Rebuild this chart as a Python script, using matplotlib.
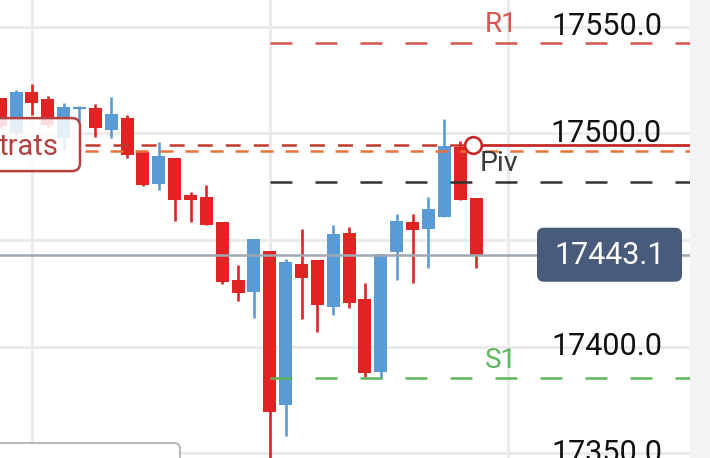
import matplotlib
matplotlib.use("Agg")
import matplotlib.pyplot as plt
from matplotlib.patches import FancyBboxPatch, Rectangle
from matplotlib.transforms import IdentityTransform

plt.rcParams['lines.scale_dashes'] = False
plt.rcParams['font.family'] = ['Roboto', 'DejaVu Sans']

# ---- data ----
opens  = [17516.5, 17500.1, 17519.4, 17516.1, 17497.8, 17511.4, 17511.9, 17501.5,
          17507.2, 17491.2, 17476.2, 17488.4, 17471.1, 17470.1, 17458.4, 17431.3,
          17425.6, 17444.8, 17372.7, 17438.8, 17440.6, 17418.6, 17453.3, 17422.4,
          17388.1, 17444.4, 17458.4, 17455.2, 17460.8, 17493.6, 17469.7]
highs  = [17516.5, 17520.3, 17523.1, 17517.5, 17514.2, 17512.8, 17513.7, 17517.0,
          17508.6, 17492.2, 17495.9, 17488.4, 17472.5, 17475.8, 17458.4, 17438.3,
          17450.5, 17444.8, 17441.1, 17455.2, 17440.6, 17457.0, 17456.1, 17429.8,
          17443.4, 17462.2, 17462.2, 17470.1, 17506.7, 17496.4, 17469.7]
lows   = [17502.5, 17499.2, 17508.6, 17503.0, 17492.2, 17505.8, 17498.3, 17497.8,
          17488.4, 17475.3, 17473.4, 17458.9, 17458.4, 17457.0, 17429.4, 17421.4,
          17413.4, 17343.0, 17358.1, 17413.0, 17406.9, 17414.9, 17418.1, 17385.8,
          17384.9, 17431.3, 17429.8, 17436.9, 17460.8, 17468.7, 17436.9]
closes = [17503.4, 17519.4, 17514.2, 17503.9, 17512.1, 17512.3, 17502.5, 17509.0,
          17489.8, 17475.8, 17489.4, 17468.7, 17468.7, 17457.0, 17430.3, 17425.2,
          17450.5, 17369.4, 17439.7, 17432.2, 17419.5, 17452.8, 17420.5, 17387.7,
          17443.4, 17458.9, 17454.7, 17464.5, 17494.0, 17468.7, 17443.1]

r1_level = 17542.3
piv_level = 17477.4
s1_level = 17385.3
strat_red_level = 17494.7
strat_orange_level = 17491.9
last_price = 17443.1

grid_prices = [17550.0, 17500.0, 17450.0, 17400.0, 17350.0]
label_prices = [17550.0, 17500.0, 17400.0, 17350.0]
price_tick_labels = ["17550.0", "17500.0", "17400.0", "17350.0"]

# ---- styling / layout ----
UP = '#5b9bd5'
DOWN = '#e02424'
GRID = '#ebebee'

fig = plt.figure(figsize=(7.1, 4.58), dpi=100)
ax = fig.add_axes([0, 0, 690 / 710, 1])
fig.add_artist(Rectangle((690 / 710, 0), 20 / 710, 1, transform=fig.transFigure,
                         color='#f3f3f5', zorder=0))

X0, X1 = -0.01, 43.49
ax.set_xlim(X0, X1)
ax.set_ylim(17347.85, 17562.46)
ax.axis('off')

# grid
for v in grid_prices:
    ax.axhline(v, color=GRID, lw=2.2, zorder=0)
for gx in [2, 17, 32]:
    ax.axvline(gx, color=GRID, lw=2.2, zorder=0)

# candles
xs = list(range(len(opens)))
cols = [UP if c >= o else DOWN for o, c in zip(opens, closes)]
ax.vlines(xs, lows, highs, colors=cols, lw=1.9, zorder=2)
bottoms = [min(o, c) for o, c in zip(opens, closes)]
heights = [max(abs(c - o), 0.6) for o, c in zip(opens, closes)]
ax.bar(xs, heights, bottom=bottoms, width=0.82, color=cols, zorder=2.1, linewidth=0)

# level lines
lvl_start = 17
ax.plot([lvl_start, X1], [r1_level] * 2, color='#d9534f', lw=1.8, dashes=(15.8, 16.6), zorder=3)
ax.plot([lvl_start, X1], [piv_level] * 2, color='#333333', lw=1.8, dashes=(15.8, 16.6), zorder=3)
ax.plot([lvl_start, X1], [s1_level] * 2, color='#5cb85c', lw=1.8, dashes=(15.8, 16.6), zorder=3)

strat_start = 5.35
marker_x = 29.81
ax.plot([strat_start, X1], [strat_orange_level] * 2, color='#e8733a', lw=1.8,
        dashes=(9.4, 8.6), zorder=3)
ax.plot([strat_start, marker_x], [strat_red_level] * 2, color='#c0392b', lw=1.8,
        dashes=(10.8, 9.4), zorder=3.1)
ax.plot([marker_x, X1], [strat_red_level] * 2, color='#c62828', lw=2.0, zorder=3.1)
ax.plot([marker_x], [strat_red_level], marker='o', ms=12, mfc='white',
        mec='#c62828', mew=1.9, zorder=3.5)

# last price line
ax.axhline(last_price, color='#a0a8b4', lw=1.8, zorder=3)

# level labels
ax.annotate('R1', xy=(30.57, r1_level), xytext=(0, 13.5), textcoords='offset points',
            ha='left', va='center', fontsize=20, color='#d9534f', zorder=6)
ax.annotate('S1', xy=(30.57, s1_level), xytext=(0, 12.5), textcoords='offset points',
            ha='left', va='center', fontsize=20, color='#5cb85c', zorder=6)
ax.annotate('Piv', xy=(30.25, piv_level), xytext=(0, 13), textcoords='offset points',
            ha='left', va='center', fontsize=20.5, color='#3a3a3a', zorder=6)

# price axis labels
for v, lab in zip(label_prices, price_tick_labels):
    ax.text(662 / 690, v, lab, transform=ax.get_yaxis_transform(), ha='right',
            va='center', fontsize=22, color='#111111', zorder=5)

fig.canvas.draw()

# last price box
yc = ax.transData.transform((0, last_price))[1]
box = FancyBboxPatch((537, yc - 27), 145, 54, boxstyle='round,pad=0,rounding_size=7',
                     transform=IdentityTransform(), fc='#485b7b', ec='none', zorder=7)
ax.add_patch(box)
ax.text(609.5, yc - 1, f"{last_price:.1f}", transform=IdentityTransform(), ha='center',
        va='center', fontsize=22, color='white', zorder=8)

# strategy label box
ys = ax.transData.transform((0, strat_red_level))[1]
sbox = FancyBboxPatch((-12, ys - 26.5), 92, 53, boxstyle='round,pad=0,rounding_size=8',
                      transform=IdentityTransform(), fc=(1, 1, 1, 0.85), ec='#b5403f',
                      lw=1.8, zorder=7)
ax.add_patch(sbox)
ax.text(-1, ys - 10, "trats", transform=IdentityTransform(), ha='left', va='baseline',
        fontsize=21, color='#b5403f', zorder=8)

# bottom panel edge
bbox2 = FancyBboxPatch((-12, -30), 192, 45, boxstyle='round,pad=0,rounding_size=6',
                       transform=IdentityTransform(), fc='white', ec='#b9b9c0',
                       lw=1.5, zorder=7)
ax.add_patch(bbox2)

fig.savefig('out.png', dpi=100)
